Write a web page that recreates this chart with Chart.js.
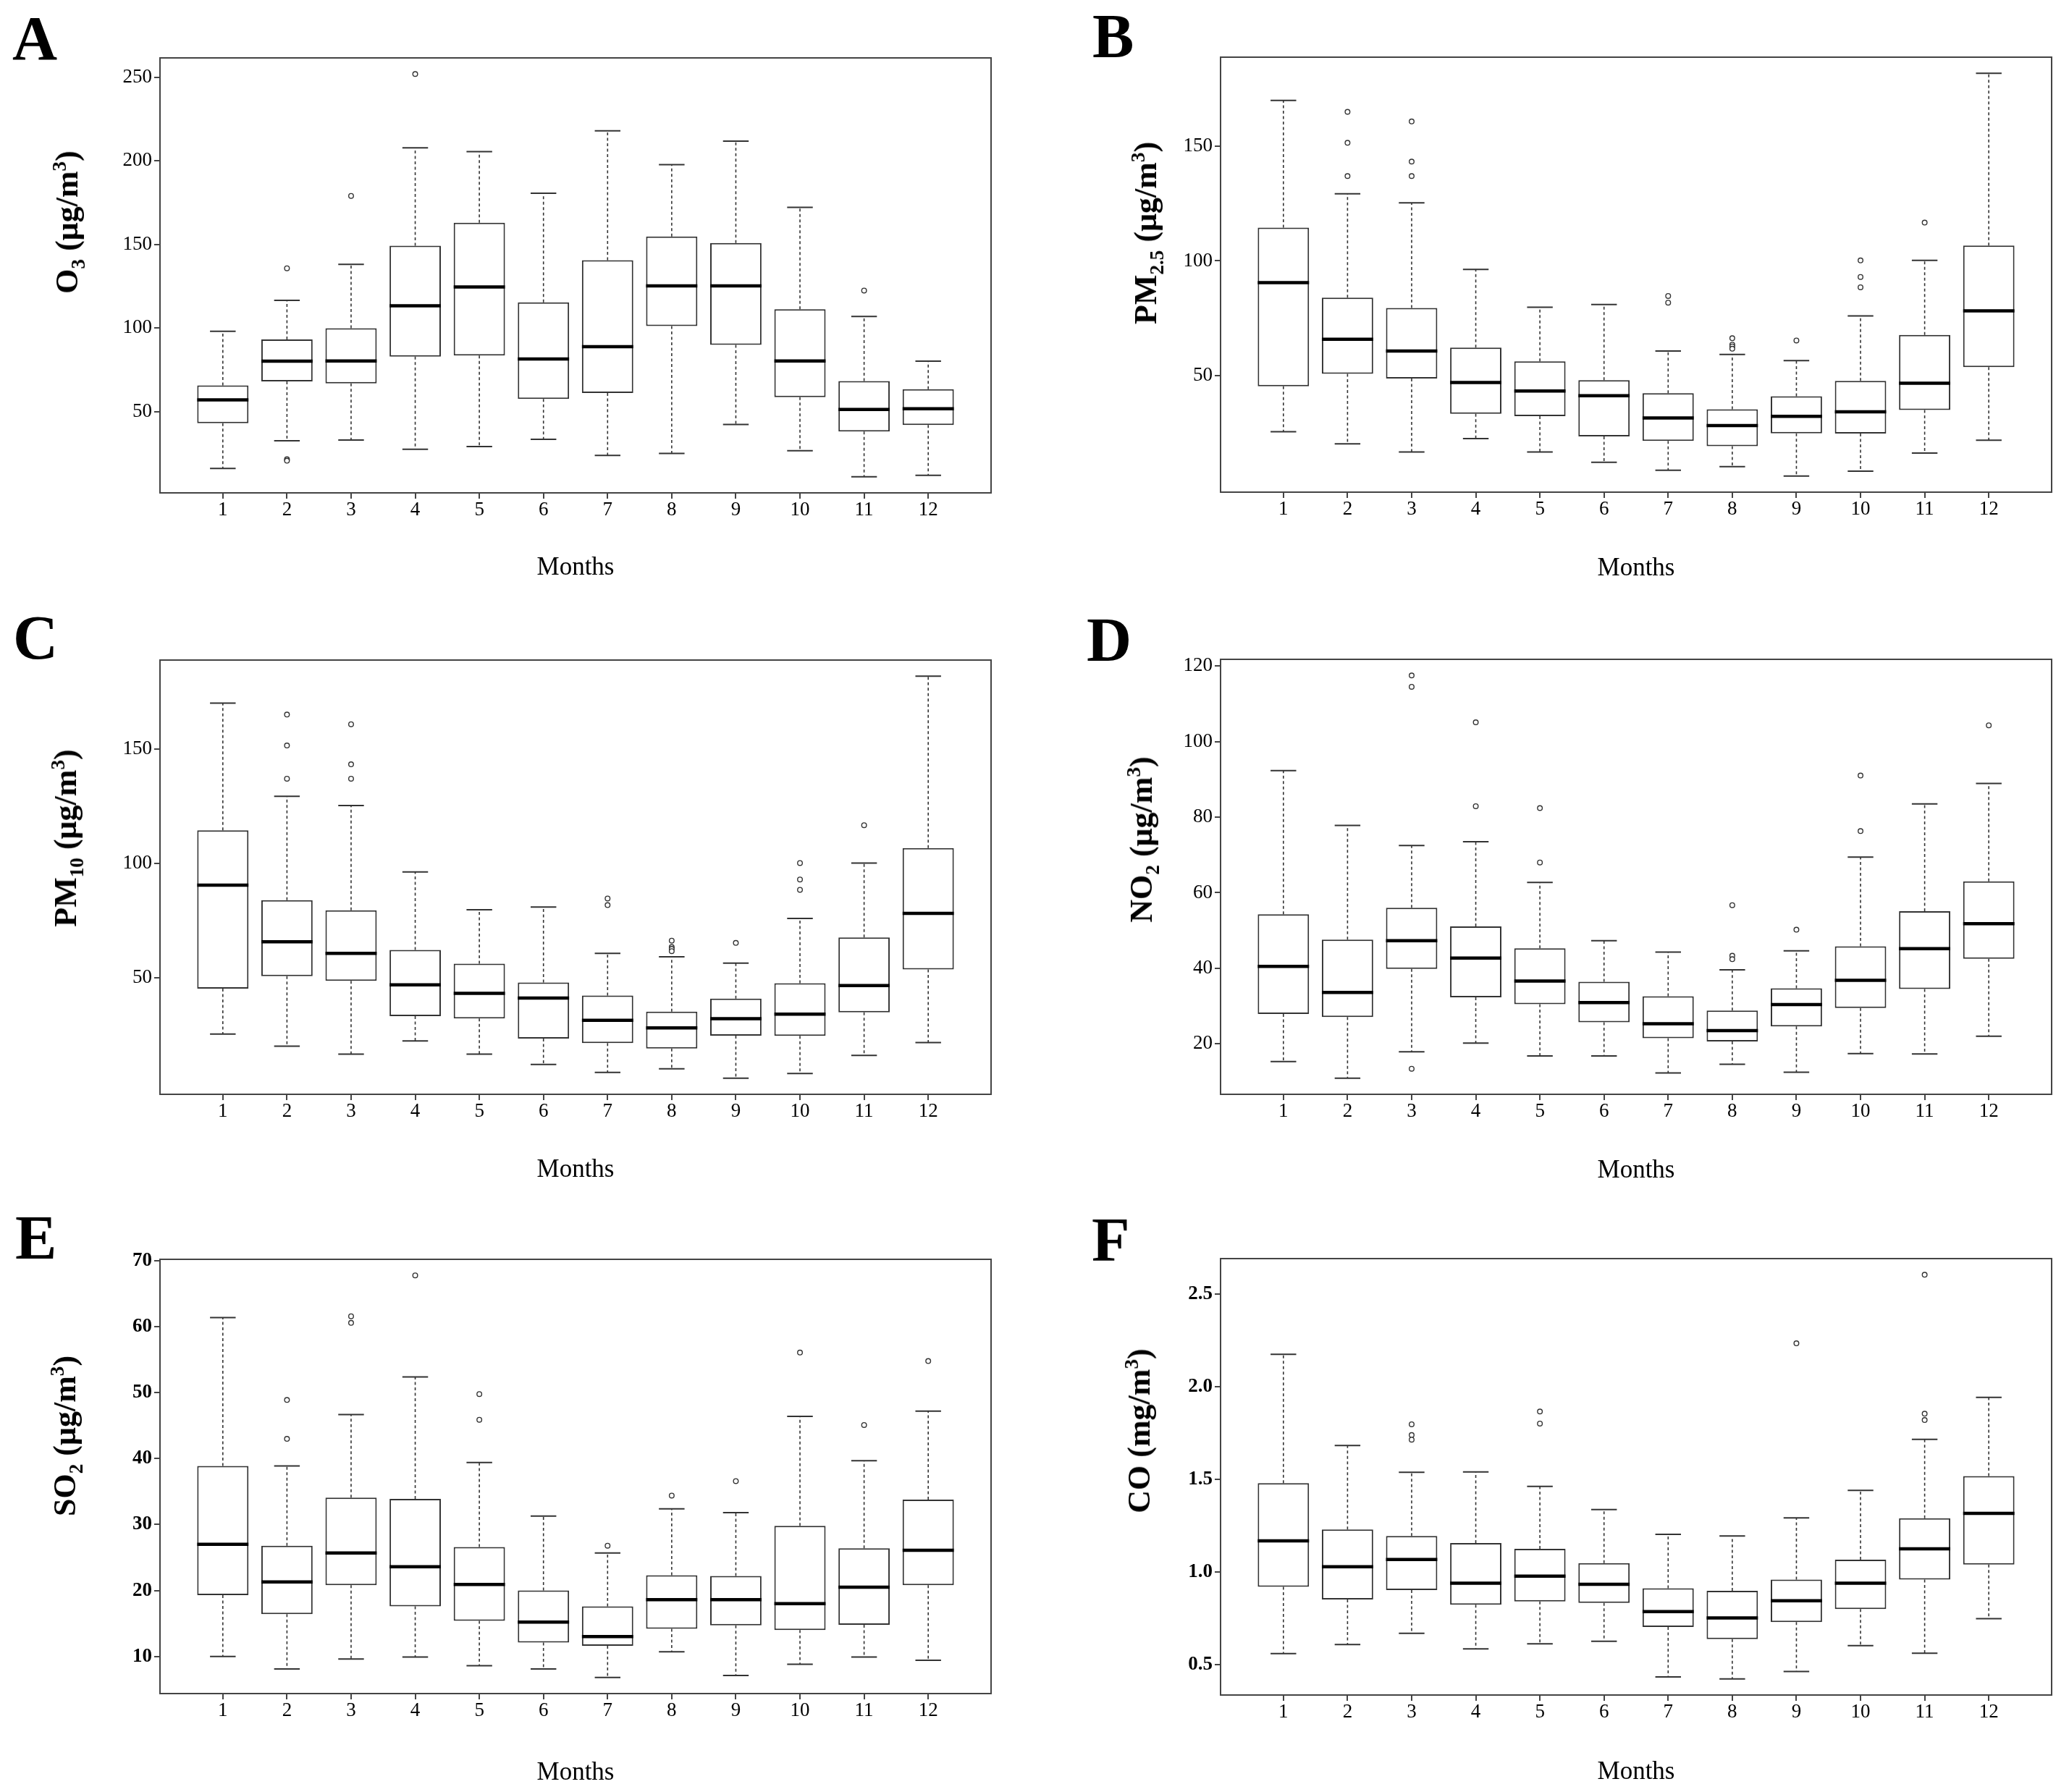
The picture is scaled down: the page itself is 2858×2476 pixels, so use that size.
<!DOCTYPE html>
<html>
<head>
<meta charset="utf-8">
<script src="https://cdn.jsdelivr.net/npm/chart.js@4.4.1/dist/chart.umd.min.js"></script>
<style>
html,body{margin:0;padding:0;background:#fff;width:2858px;height:2476px;overflow:hidden;}
#wrap{position:relative;width:2858px;height:2476px;background:#fff;}
#wrap canvas{position:absolute;}
.letter{position:absolute;font-family:"Liberation Serif","Times New Roman",Times,serif;font-weight:bold;font-size:86px;line-height:1;color:#000;white-space:nowrap;}
.ytitle{position:absolute;font-family:"Liberation Serif","Times New Roman",Times,serif;font-weight:bold;font-size:44px;line-height:1;white-space:nowrap;color:#000;transform:translate(-50%,-50%) rotate(-90deg);transform-origin:50% 50%;}
.ytitle sub,.ytitle sup{font-size:0.62em;line-height:0;}
</style>
</head>
<body>
<div id="wrap"></div>
<script>
// ---------- categories ----------
const months = [1,2,3,4,5,6,7,8,9,10,11,12];
const monthLabels = ["1","2","3","4","5","6","7","8","9","10","11","12"];

// ---------- A: O3 ----------
const o3Min = [16.1, 32.6, 33.1, 27.6, 29.2, 33.5, 23.9, 25.1, 42.4, 26.7, 11.1, 12.0];
const o3Q1  = [43.1, 68.1, 66.9, 83.0, 83.6, 57.6, 61.2, 101.3, 90.0, 58.7, 38.1, 42.0];
const o3Med = [57.1, 80.2, 80.4, 113.4, 124.6, 81.6, 88.9, 125.3, 125.3, 80.4, 51.4, 51.8];
const o3Q3  = [65.8, 93.2, 100.0, 149.3, 163.0, 115.4, 140.6, 154.8, 150.9, 111.3, 68.3, 63.5];
const o3Max = [98.1, 116.6, 138.1, 207.9, 205.6, 180.7, 218.0, 197.8, 211.8, 172.2, 107.0, 80.2];
const o3Out = [[], [135.8, 21.6, 20.7], [179.1], [252.0], [], [], [], [], [], [], [122.5], []];
const o3Ticks = [50, 100, 150, 200, 250];

// ---------- B: PM2.5 ----------
const pm25Min = [25.5, 20.2, 16.7, 22.5, 16.7, 12.2, 8.7, 10.3, 6.2, 8.3, 16.2, 21.8];
const pm25Q1  = [45.3, 50.8, 48.7, 33.3, 32.3, 23.5, 21.5, 19.2, 24.8, 24.7, 35.0, 53.7];
const pm25Med = [90.5, 65.8, 60.7, 47.0, 43.3, 41.2, 31.5, 28.2, 32.2, 34.2, 46.7, 78.2];
const pm25Q3  = [114.5, 84.0, 79.5, 62.2, 56.2, 48.0, 42.3, 35.3, 41.0, 47.7, 67.7, 106.7];
const pm25Max = [170.0, 129.3, 125.3, 96.3, 79.8, 81.0, 60.7, 59.2, 56.5, 76.0, 100.2, 181.8];
const pm25Out = [[], [165.0, 151.5, 137.0], [160.8, 143.3, 137.0], [], [], [], [84.7, 81.8], [66.3, 63.5, 62.7, 61.7], [65.3], [100.2, 93.0, 88.5], [116.7], []];
const pm25Ticks = [50, 100, 150];

// ---------- C: PM10 ----------
const pm10Min = [25.5, 20.2, 16.7, 22.5, 16.7, 12.2, 8.7, 10.3, 6.2, 8.3, 16.2, 21.8];
const pm10Q1  = [45.3, 50.8, 48.7, 33.3, 32.3, 23.5, 21.5, 19.2, 24.8, 24.7, 35.0, 53.7];
const pm10Med = [90.5, 65.8, 60.7, 47.0, 43.3, 41.2, 31.5, 28.2, 32.2, 34.2, 46.7, 78.2];
const pm10Q3  = [114.5, 84.0, 79.5, 62.2, 56.2, 48.0, 42.3, 35.3, 41.0, 47.7, 67.7, 106.7];
const pm10Max = [170.0, 129.3, 125.3, 96.3, 79.8, 81.0, 60.7, 59.2, 56.5, 76.0, 100.2, 181.8];
const pm10Out = [[], [165.0, 151.5, 137.0], [160.8, 143.3, 137.0], [], [], [], [84.7, 81.8], [66.3, 63.5, 62.7, 61.7], [65.3], [100.2, 93.0, 88.5], [116.7], []];
const pm10Ticks = [50, 100, 150];

// ---------- D: NO2 ----------
const no2Min = [15.3, 10.9, 17.9, 20.2, 16.8, 16.8, 12.3, 14.6, 12.5, 17.4, 17.3, 22.0];
const no2Q1  = [27.9, 27.1, 39.8, 32.3, 30.5, 25.7, 21.5, 20.6, 24.6, 29.5, 34.5, 42.5];
const no2Med = [40.5, 33.6, 47.3, 42.7, 36.6, 30.9, 25.3, 23.5, 30.4, 36.8, 45.2, 51.8];
const no2Q3  = [54.3, 47.6, 56.0, 51.1, 45.3, 36.4, 32.6, 28.8, 34.7, 45.8, 55.1, 63.0];
const no2Max = [92.3, 77.8, 72.5, 73.5, 62.7, 47.3, 44.3, 39.6, 44.6, 69.4, 83.5, 88.9];
const no2Out = [[], [], [117.5, 114.5, 13.4], [105.1, 82.9], [82.4, 68.0], [], [], [56.7, 43.3, 42.4], [50.2], [91.0, 76.3], [], [104.3]];
const no2Ticks = [20, 40, 60, 80, 100, 120];

// ---------- E: SO2 ----------
const so2Min = [10.0, 8.1, 9.6, 9.9, 8.6, 8.1, 6.8, 10.7, 7.1, 8.8, 9.9, 9.4];
const so2Q1  = [19.3, 16.4, 20.8, 17.6, 15.4, 12.1, 11.6, 14.2, 14.7, 14.0, 14.8, 20.8];
const so2Med = [27.0, 21.3, 25.7, 23.6, 20.9, 15.2, 13.0, 18.6, 18.6, 18.0, 20.5, 26.1];
const so2Q3  = [38.9, 26.8, 34.1, 33.9, 26.6, 20.0, 17.6, 22.3, 22.2, 29.8, 26.4, 33.8];
const so2Max = [61.4, 38.9, 46.7, 52.4, 39.4, 31.3, 25.7, 32.4, 31.8, 46.4, 39.7, 47.2];
const so2Out = [[], [48.9, 43.0], [61.6, 60.6], [67.8], [49.8, 45.9], [], [26.8], [34.4], [36.6], [56.1], [45.1], [54.8]];
const so2Ticks = [10, 20, 30, 40, 50, 60, 70];

// ---------- F: CO ----------
const coMin = [0.559, 0.608, 0.669, 0.585, 0.612, 0.626, 0.433, 0.423, 0.463, 0.602, 0.561, 0.748];
const coQ1  = [0.920, 0.851, 0.902, 0.823, 0.841, 0.833, 0.703, 0.638, 0.729, 0.800, 0.959, 1.040];
const coMed = [1.168, 1.028, 1.067, 0.939, 0.977, 0.933, 0.786, 0.752, 0.845, 0.939, 1.125, 1.316];
const coQ3  = [1.479, 1.229, 1.194, 1.156, 1.125, 1.048, 0.912, 0.898, 0.959, 1.066, 1.290, 1.517];
const coMax = [2.175, 1.682, 1.538, 1.540, 1.462, 1.337, 1.203, 1.194, 1.292, 1.440, 1.716, 1.942];
const coOut = [[], [], [1.797, 1.739, 1.714], [], [1.866, 1.801], [], [], [], [2.234], [], [2.604, 1.854, 1.820], []];
const coTicks = [0.5, 1.0, 1.5, 2.0, 2.5];

// ---------- panel layout (positions / styles only) ----------
const FONT = '"Liberation Serif", "Times New Roman", Times, serif';
const panels = [
  {letter:'A', title:'O<sub>3</sub> (μg/m<sup>3</sup>)', mn:o3Min, q1:o3Q1, md:o3Med, q3:o3Q3, mx:o3Max, out:o3Out, ticks:o3Ticks, dec:0, bold:false,
   box:[221, 80, 1148, 601], tc:[93, 307], lp:[17, 10], mo:104},
  {letter:'B', title:'PM<sub>2.5</sub> (μg/m<sup>3</sup>)', mn:pm25Min, q1:pm25Q1, md:pm25Med, q3:pm25Q3, mx:pm25Max, out:pm25Out, ticks:pm25Ticks, dec:0, bold:false,
   box:[1686, 79, 1148, 601], tc:[1583, 322], lp:[1509, 7], mo:106},
  {letter:'C', title:'PM<sub>10</sub> (μg/m<sup>3</sup>)', mn:pm10Min, q1:pm10Q1, md:pm10Med, q3:pm10Q3, mx:pm10Max, out:pm10Out, ticks:pm10Ticks, dec:0, bold:false,
   box:[221, 912, 1148, 600], tc:[91, 1158], lp:[18, 838], mo:105},
  {letter:'D', title:'NO<sub>2</sub> (μg/m<sup>3</sup>)', mn:no2Min, q1:no2Q1, md:no2Med, q3:no2Q3, mx:no2Max, out:no2Out, ticks:no2Ticks, dec:0, bold:false,
   box:[1686, 911, 1148, 601], tc:[1577, 1160], lp:[1501, 841], mo:106},
  {letter:'E', title:'SO<sub>2</sub> (μg/m<sup>3</sup>)', mn:so2Min, q1:so2Q1, md:so2Med, q3:so2Q3, mx:so2Max, out:so2Out, ticks:so2Ticks, dec:0, bold:true,
   box:[221, 1740, 1148, 600], tc:[90, 1984], lp:[21, 1667], mo:110},
  {letter:'F', title:'CO (mg/m<sup>3</sup>)', mn:coMin, q1:coQ1, md:coMed, q3:coQ3, mx:coMax, out:coOut, ticks:coTicks, dec:1, bold:true,
   box:[1686, 1739, 1148, 603], tc:[1574, 1977], lp:[1508, 1670], mo:107}
];

const wrap = document.getElementById('wrap');
const AXIS_COLOR = '#444';
const BOX_COLOR = '#333';

function zeroPad(s){ s.paddingLeft = 0; s.paddingRight = 0; s.paddingTop = 0; s.paddingBottom = 0; }

function buildPanel(p){
  const [L, T, W, H] = p.box;
  const yW = 200, padT = 20, padR = 20, xH = p.mo + 23;
  const cw = yW + W + padR, ch = padT + H + xH;
  const cv = document.createElement('canvas');
  cv.width = cw; cv.height = ch;
  cv.style.left = (L - yW) + 'px';
  cv.style.top = (T - padT) + 'px';
  cv.style.width = cw + 'px';
  cv.style.height = ch + 'px';
  wrap.appendChild(cv);

  const all = p.mn.concat(p.mx, p.out.flat());
  const lo = Math.min(...all), hi = Math.max(...all), ext = (hi - lo) * 0.04;

  const boxes = months.map((m, i) => ({x: m, y: [p.q1[i], p.q3[i]]}));
  const medians = months.flatMap((m, i) => [{x: m - 0.4, y: p.md[i]}, {x: m + 0.4, y: p.md[i]}, {x: m, y: null}]);
  const whiskers = months.flatMap((m, i) => [
    {x: m, y: p.q3[i]}, {x: m, y: p.mx[i]}, {x: m, y: null},
    {x: m, y: p.q1[i]}, {x: m, y: p.mn[i]}, {x: m, y: null}]);
  const caps = months.flatMap((m, i) => [
    {x: m - 0.2, y: p.mx[i]}, {x: m + 0.2, y: p.mx[i]}, {x: m, y: null},
    {x: m - 0.2, y: p.mn[i]}, {x: m + 0.2, y: p.mn[i]}, {x: m, y: null}]);
  const outs = months.flatMap((m, i) => p.out[i].map(v => ({x: m, y: v})));

  new Chart(cv, {
    type: 'bar',
    data: {
      datasets: [
        {type: 'line', data: whiskers, borderColor: BOX_COLOR, borderWidth: 1.6, borderDash: [4, 3.5],
         pointRadius: 0, pointHoverRadius: 0, spanGaps: false, fill: false, order: 5},
        {type: 'line', data: caps, borderColor: BOX_COLOR, borderWidth: 2, pointRadius: 0, pointHoverRadius: 0,
         spanGaps: false, fill: false, order: 4},
        {type: 'bar', data: boxes, backgroundColor: '#ffffff', borderColor: BOX_COLOR, borderWidth: 2,
         borderSkipped: false, barPercentage: 0.8, categoryPercentage: 1.0, order: 3},
        {type: 'line', data: medians, borderColor: '#000', borderWidth: 4.5, pointRadius: 0, pointHoverRadius: 0,
         spanGaps: false, fill: false, order: 2},
        {type: 'line', data: outs, showLine: false, pointStyle: 'circle', pointRadius: 3.3, pointHoverRadius: 3.3,
         pointBackgroundColor: '#ffffff', pointBorderColor: BOX_COLOR, pointBorderWidth: 1.4, order: 1}
      ]
    },
    options: {
      animation: false,
      responsive: false,
      devicePixelRatio: 1,
      events: [],
      layout: {padding: {left: 0, top: padT, right: padR, bottom: 0}},
      plugins: {legend: {display: false}, tooltip: {enabled: false}},
      scales: {
        x: {
          type: 'linear', position: 'bottom', min: 0.02, max: 12.98, offset: false,
          afterBuildTicks: s => { s.ticks = months.map(v => ({value: v})); },
          afterFit: s => { s.height = xH; zeroPad(s); },
          ticks: {callback: v => monthLabels[months.indexOf(v)], font: {family: FONT, size: 27}, color: '#000',
                  padding: 0, autoSkip: false, maxRotation: 0, minRotation: 0},
          grid: {display: true, offset: false, drawOnChartArea: false, drawTicks: true, tickLength: 8, color: AXIS_COLOR, lineWidth: 2},
          border: {display: true, color: AXIS_COLOR, width: 2},
          title: {display: true, text: 'Months', font: {family: FONT, size: 35}, color: '#000', padding: {top: 0, bottom: 2}}
        },
        y: {
          type: 'linear', position: 'left', min: lo - ext, max: hi + ext, beginAtZero: false,
          afterBuildTicks: s => { s.ticks = p.ticks.map(v => ({value: v})); },
          afterFit: s => { s.width = yW; zeroPad(s); },
          ticks: {callback: v => Number(v).toFixed(p.dec), font: {family: FONT, size: 27, weight: p.bold ? 'bold' : 'normal'},
                  color: '#000', padding: 3, autoSkip: false},
          grid: {display: true, drawOnChartArea: false, drawTicks: true, tickLength: 8, color: AXIS_COLOR, lineWidth: 2},
          border: {display: true, color: AXIS_COLOR, width: 2}
        },
        xTop: {
          type: 'linear', position: 'top', min: 0, max: 1, display: true,
          afterFit: s => { s.height = 0; zeroPad(s); },
          ticks: {display: false}, grid: {display: false, drawTicks: false},
          border: {display: true, color: AXIS_COLOR, width: 2}
        },
        yRight: {
          type: 'linear', position: 'right', min: 0, max: 1, display: true,
          afterFit: s => { s.width = 0; zeroPad(s); },
          ticks: {display: false}, grid: {display: false, drawTicks: false},
          border: {display: true, color: AXIS_COLOR, width: 2}
        }
      }
    }
  });

  const lt = document.createElement('div');
  lt.className = 'letter';
  lt.style.left = p.lp[0] + 'px';
  lt.style.top = p.lp[1] + 'px';
  lt.textContent = p.letter;
  wrap.appendChild(lt);

  const yt = document.createElement('div');
  yt.className = 'ytitle';
  yt.style.left = p.tc[0] + 'px';
  yt.style.top = p.tc[1] + 'px';
  yt.innerHTML = p.title;
  wrap.appendChild(yt);
}

panels.forEach(buildPanel);
</script>
</body>
</html>
